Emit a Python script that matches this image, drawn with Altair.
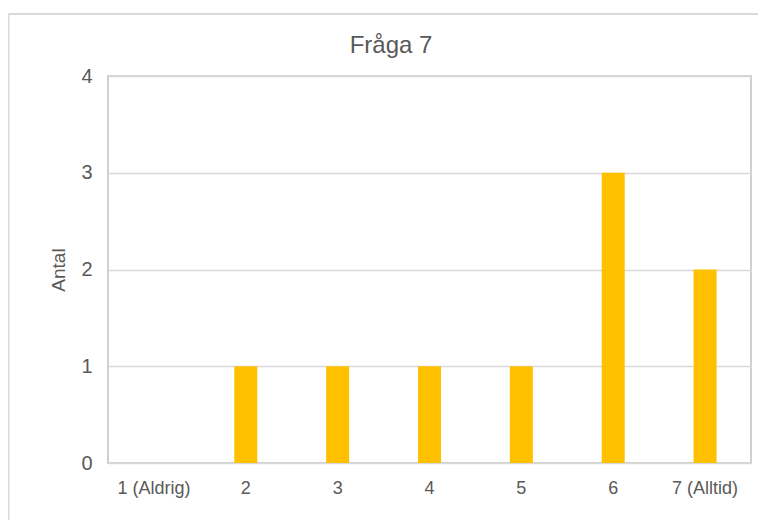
import altair as alt
import pandas as pd

categories = ["1 (Aldrig)", "2", "3", "4", "5", "6", "7 (Alltid)"]
counts = [0, 1, 1, 1, 1, 3, 2]
y_ticks = [0, 1, 2, 3, 4]
title_text = "Fråga 7"

df = pd.DataFrame({"Svar": categories, "Antal": counts})

GREY = "#595959"

bars = alt.Chart(df).mark_bar(color="#FFC000", size=23).encode(
    x=alt.X("Svar:N", sort=categories, title=None,
            scale=alt.Scale(paddingInner=0, paddingOuter=0),
            axis=alt.Axis(labelAngle=0, labelFontSize=18, labelColor=GREY,
                          labelFont="Liberation Sans", ticks=False, domain=False,
                          labelPadding=16, grid=False)),
    y=alt.Y("Antal:Q", title="Antal",
            scale=alt.Scale(domain=[0, 4], nice=False),
            axis=alt.Axis(values=y_ticks, format="d", labelFontSize=20,
                          labelColor=GREY, labelFont="Liberation Sans",
                          ticks=False, domain=False, labelPadding=16,
                          gridColor="#d9d9d9", gridWidth=1.5,
                          titleFontSize=19, titleFont="Liberation Sans",
                          titleColor=GREY, titleFontWeight="normal",
                          titlePadding=12)),
)

one = pd.DataFrame({"t": [title_text]})
left_border = alt.Chart(one).mark_rule(color="#d9d9d9", strokeWidth=2, clip=False).encode(
    x=alt.value(-99.5), y=alt.value(-62), y2=alt.value(470)
)
top_border = alt.Chart(one).mark_rule(color="#d9d9d9", strokeWidth=2, clip=False).encode(
    x=alt.value(-100), x2=alt.value(660), y=alt.value(-62)
)
title = alt.Chart(one).mark_text(fontSize=24, font="Liberation Sans", color=GREY,
                                 baseline="alphabetic", align="center").encode(
    text="t:N", x=alt.value(283), y=alt.value(-23)
)

chart = alt.layer(bars, left_border, top_border, title).properties(
    width=643,
    height=387,
    autosize=alt.AutoSizeParams(type="none"),
    padding={"left": 100, "top": 68, "right": 7, "bottom": 57},
    background="white",
).configure_view(stroke="#d0d0d0", strokeWidth=2)

chart.save("out.html", embed_options={"renderer": "svg", "actions": False})
